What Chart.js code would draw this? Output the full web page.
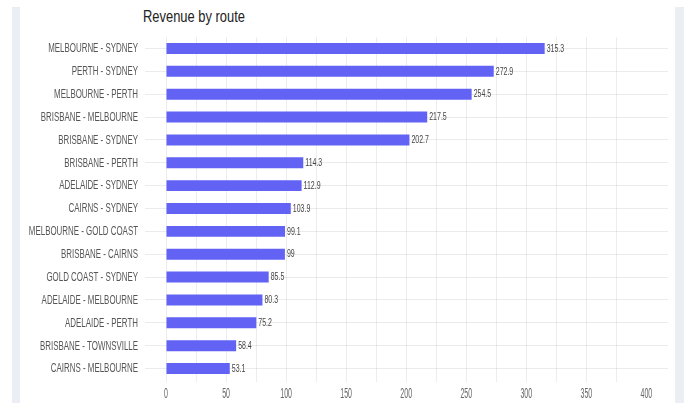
<!DOCTYPE html>
<html>
<head>
<meta charset="utf-8">
<title>Revenue by route</title>
<script src="https://cdn.jsdelivr.net/npm/chart.js@4.4.1/dist/chart.umd.min.js"></script>
<style>
    html, body {
        margin: 0;
        padding: 0;
        background: #ffffff;
    }
    body {
        width: 684px;
        height: 403px;
        position: relative;
        overflow: hidden;
    }
    .side {
        position: absolute;
        top: 7px;
        bottom: 0;
        background: #ebeff4;
    }
    .side.left { left: 12px; width: 8px; }
    .side.right { left: 675px; width: 9px; }
    #chart-title {
        position: absolute;
        left: 143px;
        top: 7px;
        font: 17px "Liberation Sans", Arial, sans-serif;
        color: #222;
        transform: scaleX(0.76);
        transform-origin: left top;
        white-space: nowrap;
    }
    #wrap {
        position: absolute;
        left: 0;
        top: 0;
        width: 684px;
        height: 403px;
    }
</style>
</head>
<body>
<div class="side left"></div>
<div class="side right"></div>
<div id="chart-title">Revenue by route</div>
<div id="wrap"><canvas id="routeChart"></canvas></div>

<script>
const routes = [
    "MELBOURNE - SYDNEY",
    "PERTH - SYDNEY",
    "MELBOURNE - PERTH",
    "BRISBANE - MELBOURNE",
    "BRISBANE - SYDNEY",
    "BRISBANE - PERTH",
    "ADELAIDE - SYDNEY",
    "CAIRNS - SYDNEY",
    "MELBOURNE - GOLD COAST",
    "BRISBANE - CAIRNS",
    "GOLD COAST - SYDNEY",
    "ADELAIDE - MELBOURNE",
    "ADELAIDE - PERTH",
    "BRISBANE - TOWNSVILLE",
    "CAIRNS - MELBOURNE"
];

const revenue = [315.3, 272.9, 254.5, 217.5, 202.7, 114.3, 112.9, 103.9, 99.1, 99, 85.5, 80.3, 75.2, 58.4, 53.1];

const revenueTicks = [0, 50, 100, 150, 200, 250, 300, 350, 400];

const FONT = '"Liberation Sans", Arial, sans-serif';

// draw a string squeezed horizontally around (x, y)
function squeezedText(ctx, text, x, y, align, scaleX) {
    ctx.save();
    ctx.translate(x, y);
    ctx.scale(scaleX, 1);
    ctx.textAlign = align;
    ctx.fillText(text, 0, 0);
    ctx.restore();
}

const routeLabels = {
    id: "routeLabels",
    afterDraw(chart) {
        const ctx = chart.ctx;
        const xScale = chart.scales.x;
        const yScale = chart.scales.y;
        const bars = chart.getDatasetMeta(0).data;

        ctx.save();
        ctx.textBaseline = "middle";

        // route names on the left
        ctx.fillStyle = "#555";
        ctx.font = "12px " + FONT;
        routes.forEach((name, i) => {
            squeezedText(ctx, name, 138, yScale.getPixelForValue(i) + 0.5, "right", 0.66);
        });

        // value next to each bar
        ctx.fillStyle = "#444";
        ctx.font = "10px " + FONT;
        bars.forEach((bar, i) => {
            squeezedText(ctx, String(revenue[i]), bar.x + 2, bar.y + 0.5, "left", 0.7);
        });

        // revenue axis numbers
        ctx.fillStyle = "#666";
        ctx.font = "14px " + FONT;
        revenueTicks.forEach(v => {
            squeezedText(ctx, String(v), xScale.getPixelForValue(v), 394, "center", 0.5);
        });

        ctx.restore();
    }
};

new Chart(document.getElementById("routeChart"), {
    type: "bar",
    data: {
        labels: routes,
        datasets: [{
            label: "Revenue",
            data: revenue,
            backgroundColor: "#6262f4",
            borderWidth: 0,
            barPercentage: 0.48,
            categoryPercentage: 1
        }]
    },
    options: {
        indexAxis: "y",
        responsive: true,
        maintainAspectRatio: false,
        animation: false,
        layout: {
            padding: { left: 145, right: 16, top: 37, bottom: 21 }
        },
        scales: {
            x: {
                min: 0,
                max: 418,
                ticks: { display: false, stepSize: 25 },
                afterBuildTicks(scale) {
                    scale.ticks = scale.ticks.filter(t => t.value % 25 === 0);
                },
                grid: {
                    color: "rgba(0,0,0,0.07)",
                    tickLength: 2
                },
                border: { display: false }
            },
            y: {
                ticks: { display: false },
                grid: {
                    offset: false,
                    color: "rgba(0,0,0,0.08)",
                    tickLength: 21
                },
                border: { display: false }
            }
        },
        plugins: {
            legend: { display: false },
            tooltip: { enabled: false },
            title: { display: false }
        }
    },
    plugins: [routeLabels]
});
</script>
</body>
</html>
